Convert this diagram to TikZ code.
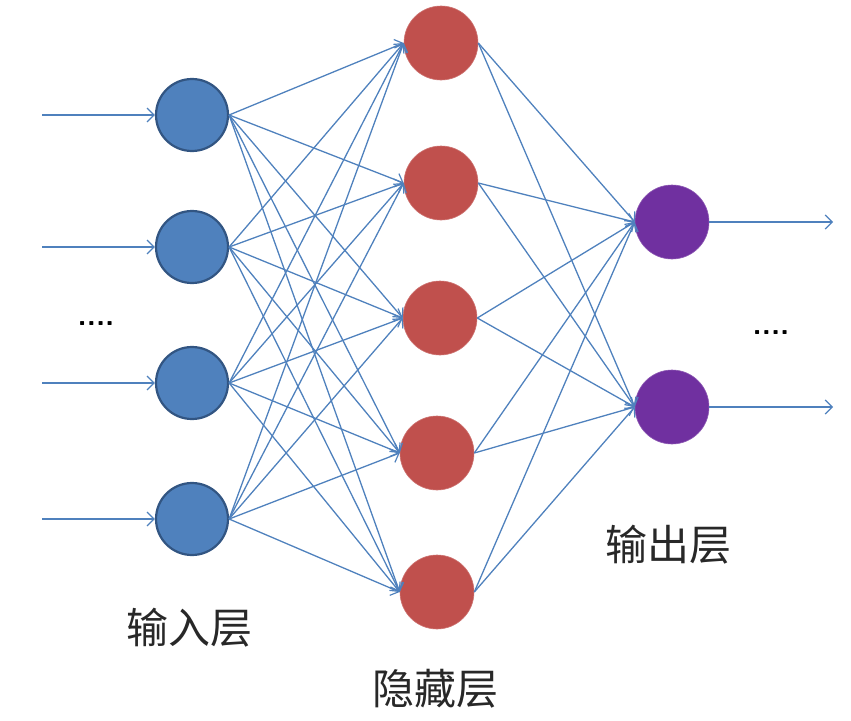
\documentclass[tikz,border=0pt]{standalone}
\usepackage{fontspec}
\newfontfamily\cjk{Noto Sans CJK SC}
\usetikzlibrary{arrows.meta}
\definecolor{edgeblue}{RGB}{79,129,189}
\definecolor{inblue}{RGB}{79,129,189}
\definecolor{inborder}{RGB}{50,85,130}
\definecolor{hidred}{RGB}{192,80,77}
\definecolor{outpurple}{RGB}{112,48,160}
\definecolor{txtgray}{RGB}{40,40,40}
\tikzset{
  inneuron/.style={circle, fill=inblue, draw=inborder, line width=2.2pt, minimum size=72pt, inner sep=0pt},
  hidneuron/.style={circle, fill=hidred, draw=hidred!80!white, line width=0.6pt, minimum size=74pt, inner sep=0pt},
  outneuron/.style={circle, fill=outpurple, draw=outpurple!80!white, line width=0.6pt, minimum size=74pt, inner sep=0pt},
  conn/.style={draw=edgeblue, line width=1.3pt, -{Straight Barb[length=7pt,width=14pt,line width=1.2pt]}},
  layerlabel/.style={font=\cjk\fontsize{42}{44}\selectfont, text=txtgray},
  dots/.style={font=\sffamily\bfseries\fontsize{30}{32}\selectfont, text=black}
}
\begin{document}
\begin{tikzpicture}[x=1pt,y=-1pt]
\useasboundingbox (0,0) rectangle (851,720);
% input layer
\node[inneuron] (i1) at (192,115) {};
\node[inneuron] (i2) at (192,247) {};
\node[inneuron] (i3) at (192,383) {};
\node[inneuron] (i4) at (192,519) {};
% hidden layer
\node[hidneuron] (h1) at (441,43) {};
\node[hidneuron] (h2) at (441,183) {};
\node[hidneuron] (h3) at (440,318) {};
\node[hidneuron] (h4) at (437,453) {};
\node[hidneuron] (h5) at (437,592) {};
% output layer
\node[outneuron] (o1) at (672,222) {};
\node[outneuron] (o2) at (672,407) {};
% free ends of the input and output arrows
\coordinate (s1) at (42,115);
\coordinate (s2) at (42,247);
\coordinate (s3) at (42,383);
\coordinate (s4) at (42,519);
\coordinate (e1) at (833,222);
\coordinate (e2) at (833,407);
\foreach \i in {1,...,4}{
  \draw[conn] (s\i) -- (i\i.west);
  \foreach \h in {1,...,5}{
    \draw[conn] (i\i.east) -- (h\h.west);
  }
}
\foreach \h in {1,...,5}{
  \foreach \o in {1,2}{
    \draw[conn] (h\h.east) -- (o\o.west);
  }
}
\draw[conn] (o1.east) -- (e1);
\draw[conn] (o2.east) -- (e2);
% labels
\node[dots] (d1) at (96,324) {....};
\node[dots] (d2) at (771,333) {....};
\node[layerlabel] (l1) at (189,628) {输入层};
\node[layerlabel] (l2) at (435,689) {隐藏层};
\node[layerlabel] (l3) at (668,545) {输出层};
\end{tikzpicture}
\end{document}
